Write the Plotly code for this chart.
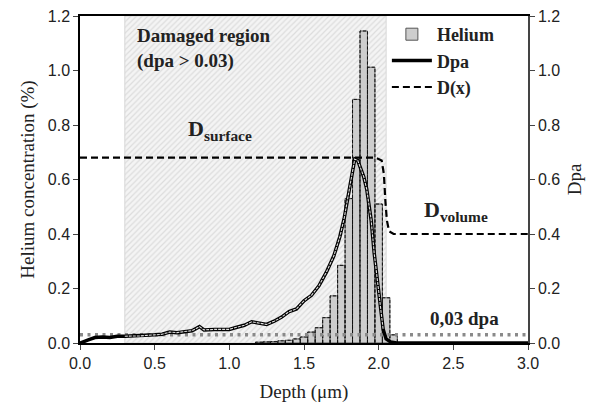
import plotly.graph_objects as go

# ---------------- data ----------------
helium_depth = [1.20, 1.25, 1.30, 1.35, 1.40, 1.45, 1.50, 1.55, 1.60, 1.65, 1.70,
                1.75, 1.80, 1.85, 1.90, 1.95, 2.00, 2.05, 2.10]
helium_conc = [0.003, 0.004, 0.005, 0.008, 0.010, 0.015, 0.022, 0.040, 0.056, 0.093, 0.173,
               0.285, 0.530, 0.894, 1.145, 1.012, 0.510, 0.166, 0.030]
bar_width = 0.05

dpa_depth = [0, 0.03, 0.06, 0.1, 0.15, 0.2, 0.25, 0.3, 0.4, 0.5, 0.55, 0.6, 0.65, 0.7,
             0.75, 0.8, 0.83, 0.9, 1.0, 1.05, 1.1, 1.15, 1.2, 1.25, 1.3, 1.35, 1.4, 1.45,
             1.5, 1.55, 1.6, 1.65, 1.7, 1.74, 1.77, 1.8, 1.82, 1.84, 1.86, 1.88, 1.9,
             1.92, 1.95, 1.97, 2.0, 2.02, 2.03, 2.05, 2.08, 2.12, 2.5, 3.0]
dpa_value = [0, 0.005, 0.012, 0.02, 0.022, 0.02, 0.025, 0.025, 0.026, 0.030, 0.032, 0.040,
             0.038, 0.042, 0.045, 0.060, 0.048, 0.050, 0.050, 0.058, 0.065, 0.078, 0.074,
             0.068, 0.080, 0.095, 0.115, 0.125, 0.155, 0.175, 0.210, 0.260, 0.320, 0.390,
             0.460, 0.545, 0.615, 0.675, 0.670, 0.640, 0.610, 0.565, 0.450, 0.330, 0.190,
             0.100, 0.050, 0.015, 0.004, 0.0, 0.0, 0.0]

dx_depth = [0, 1.98, 2.02, 2.035, 2.045, 2.055, 2.07, 2.1, 3.0]
dx_value = [0.68, 0.68, 0.67, 0.62, 0.52, 0.45, 0.41, 0.40, 0.40]

threshold = 0.03
region_start, region_end = 0.3, 2.05
x_range = [0, 3.0]
y_range = [0, 1.2]

serif = "Liberation Serif"
sans = "Liberation Sans"

fig = go.Figure()

# damaged region (hatched) as a wide bar so it stays beneath the helium bars
fig.add_trace(go.Bar(
    x=[(region_start + region_end) / 2], y=[y_range[1]], width=region_end - region_start,
    marker=dict(color="#f4f4f4", line=dict(width=1, color="#d8d8d8"),
                pattern=dict(shape="/", fgcolor="#c4c4c4", bgcolor="#f4f4f4",
                             size=4, solidity=0.3)),
    showlegend=False, hoverinfo="skip"))

# helium bars
fig.add_trace(go.Bar(
    x=helium_depth, y=helium_conc, width=bar_width, name="<b>Helium</b>",
    marker=dict(color="#cdcdcd", line=dict(color="#555555", width=1))))

# dashed bar outlines
ox, oy = [], []
for xc, h in zip(helium_depth, helium_conc):
    l, r = xc - bar_width / 2, xc + bar_width / 2
    ox += [l, l, r, r, None]
    oy += [0, h, h, 0, None]
fig.add_trace(go.Scatter(x=ox, y=oy, mode="lines",
                         line=dict(color="#111111", width=1, dash="3px,2px"),
                         showlegend=False, hoverinfo="skip"))

# threshold dotted line
fig.add_trace(go.Scatter(x=x_range, y=[threshold, threshold], mode="lines", yaxis="y2",
                         line=dict(color="#8a8a8a", width=3.5, dash="3px,4.5px"),
                         showlegend=False, hoverinfo="skip"))

# Dpa line
fig.add_trace(go.Scatter(x=dpa_depth, y=dpa_value, mode="lines", name="<b>Dpa</b>",
                         yaxis="y2", line=dict(color="black", width=3.5)))
inner_x = [x for x in dpa_depth if region_start <= x <= 2.03]
inner_y = [y for x, y in zip(dpa_depth, dpa_value) if region_start <= x <= 2.03]
fig.add_trace(go.Scatter(x=inner_x, y=inner_y, mode="lines", yaxis="y2",
                         line=dict(color="#e0e0e0", width=1.1, dash="3px,1px"),
                         showlegend=False, hoverinfo="skip"))

# D(x)
fig.add_trace(go.Scatter(x=dx_depth, y=dx_value, mode="lines", name="<b>D(x)</b>",
                         yaxis="y2", line=dict(color="black", width=2.2, dash="7px,4px")))

ann_font = dict(family=serif, size=19, color="#222222")
fig.add_annotation(x=0.37, y=1.175, xref="x", yref="y", xanchor="left", yanchor="top",
                   text="<b>Damaged region<br>(dpa > 0.03)</b>", showarrow=False,
                   align="left", font=ann_font)
fig.add_annotation(x=0.71, y=0.78, xref="x", yref="y", xanchor="left", yanchor="middle",
                   text="<b>D<sub>surface</sub></b>", showarrow=False,
                   font=dict(family=serif, size=22, color="#222222"))
fig.add_annotation(x=2.29, y=0.485, xref="x", yref="y", xanchor="left", yanchor="middle",
                   text="<b>D<sub>volume</sub></b>", showarrow=False,
                   font=dict(family=serif, size=22, color="#222222"))
fig.add_annotation(x=2.33, y=0.09, xref="x", yref="y", xanchor="left", yanchor="middle",
                   text="<b>0,03 dpa</b>", showarrow=False,
                   font=dict(family=serif, size=19, color="#222222"))

axis_common = dict(ticks="outside", ticklen=5, tickwidth=1.2, showgrid=False,
                   zeroline=False, tickfont=dict(family=sans, size=16, color="#222222"),
                   showline=True, linewidth=1.5, automargin=False)

fig.update_layout(
    width=595, height=407,
    margin=dict(l=80, r=67, t=16, b=64),
    paper_bgcolor="white", plot_bgcolor="white",
    barmode="overlay",
    xaxis=dict(range=x_range, dtick=0.5, tickformat=".1f", linecolor="black",
               mirror=True,
               title=dict(text="Depth (μm)", font=dict(family=serif, size=19, color="#222222"),
                          standoff=14),
               **axis_common),
    yaxis=dict(range=y_range, dtick=0.2, tickformat=".1f", linecolor="black",
               title=dict(text="Helium concentration (%)",
                          font=dict(family=serif, size=19, color="#222222"), standoff=8),
               **axis_common),
    yaxis2=dict(range=y_range, dtick=0.2, tickformat=".1f", overlaying="y", side="right",
                linecolor="#444444",
                title=dict(text="Dpa", font=dict(family=serif, size=19, color="#222222"),
                           standoff=8),
                **axis_common),
    legend=dict(x=0.685, y=1.0, xanchor="left", yanchor="top", bgcolor="rgba(0,0,0,0)",
                font=dict(family=serif, size=18, color="#222222"), tracegroupgap=0,
                itemwidth=40),
)

fig.write_html("out.html")
